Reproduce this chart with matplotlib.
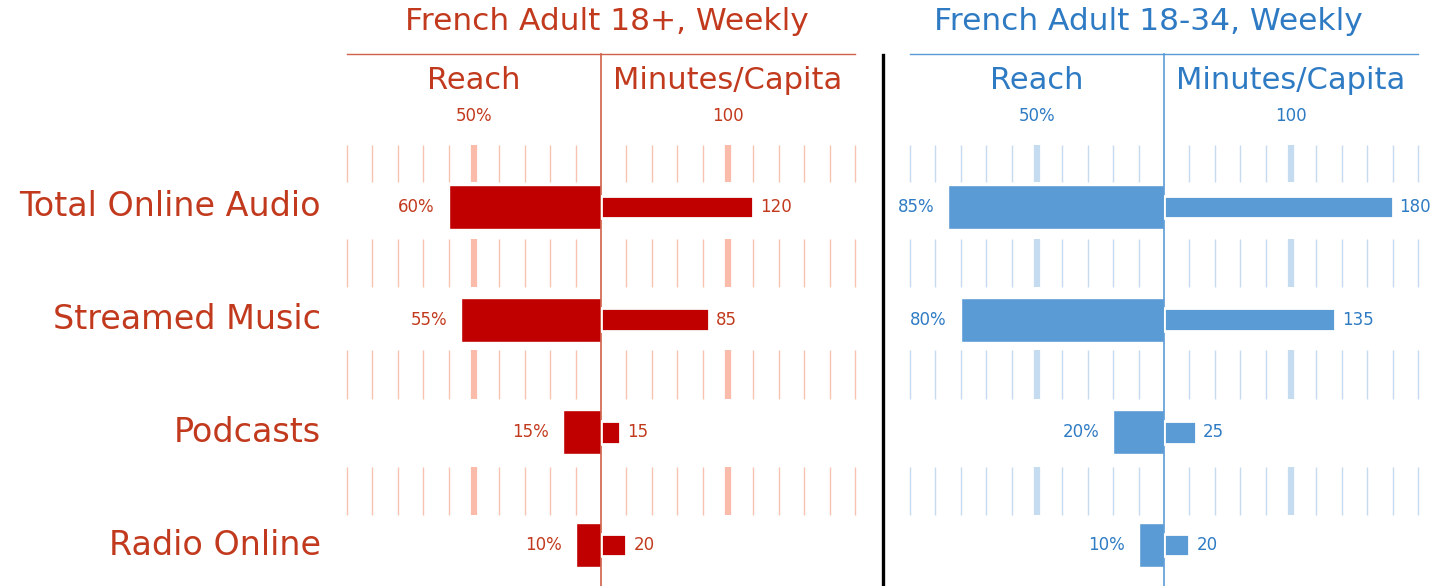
import matplotlib.pyplot as plt
from matplotlib.lines import Line2D

plt.rcParams['font.family'] = ['DejaVu Sans']

# data
categories = ["Total Online Audio", "Streamed Music", "Podcasts", "Radio Online"]
adult_reach = [60, 55, 15, 10]
adult_minutes = [120, 85, 15, 20]
young_reach = [85, 80, 20, 10]
young_minutes = [180, 135, 25, 20]
reach_ticks = [10, 20, 30, 40, 50, 60, 70, 80, 90, 100]
minutes_ticks = [20, 40, 60, 80, 100, 120, 140, 160, 180, 200]
reach_major = 50
minutes_major = 100
titles = ["French Adult 18+, Weekly", "French Adult 18-34, Weekly"]

W, H = 1447, 586
fig = plt.figure(figsize=(W / 100, H / 100), dpi=100)

# colours per panel
red = dict(text="#C23A1E", bar="#C00000", grid="#F8C2B2", major="#FBBBAA", line="#D0604A")
blue = dict(text="#2E7BC4", bar="#5B9BD5", grid="#C6DBEF", major="#C5DCF0", line="#5B9BD5")

# rows sit at 0..3, axes span y=54..586 px
ylim = (3.363, -1.357)
bands = [(-0.55, -0.22), (0.28, 0.71), (1.27, 1.70), (2.31, 2.73)]


def px_axes(x0, x1, y0=54, y1=586):
    return fig.add_axes([x0 / W, 1 - y1 / H, (x1 - x0) / W, (y1 - y0) / H])


def fig_text(x, y, s, **kw):
    fig.text(x / W, 1 - y / H, s, **kw)


def setup(ax, c):
    ax.set_ylim(*ylim)
    ax.set_xticks([])
    ax.set_yticks([])
    for sp in ax.spines.values():
        sp.set_visible(False)
    ax.spines['top'].set_visible(True)
    ax.spines['top'].set_color(c["line"])
    ax.spines['top'].set_linewidth(1.0)
    ax.patch.set_alpha(0)


def grid(ax, ticks, major, c):
    for t in ticks:
        for b0, b1 in bands:
            if t == major:
                ax.vlines(t, b0, b1, color=c["major"], lw=4.5, zorder=1, clip_on=False)
            else:
                ax.vlines(t, b0, b1, color=c["grid"], lw=1.0, zorder=1, clip_on=False)


def panel(x0, reach, minutes, c, title, title_x):
    xm = x0 + 254
    ax_r = px_axes(x0, xm)
    ax_m = px_axes(xm, xm + 254)
    for ax in (ax_r, ax_m):
        setup(ax, c)
    ax_r.set_xlim(100, 0)
    ax_m.set_xlim(0, 200)
    ax_r.spines['right'].set_visible(True)
    ax_r.spines['right'].set_color(c["line"])
    ax_r.spines['right'].set_linewidth(1.2)
    ax_r.spines['right'].set_zorder(3)

    grid(ax_r, reach_ticks, reach_major, c)
    grid(ax_m, minutes_ticks, minutes_major, c)

    rows = range(len(categories))
    ax_r.barh(rows, reach, height=0.39, color=c["bar"], edgecolor="white", lw=1, zorder=2)
    ax_m.barh(rows, minutes, height=0.2, color=c["bar"], edgecolor="white", lw=2, zorder=2)
    for i in rows:
        ax_r.annotate(f"{reach[i]}%", (reach[i], i), xytext=(-10, 0), textcoords="offset points",
                      ha="right", va="center", fontsize=12, color=c["text"])
        ax_m.annotate(f"{minutes[i]}", (minutes[i], i), xytext=(5, 0), textcoords="offset points",
                      ha="left", va="center", fontsize=12, color=c["text"])

    ax_r.text(0.5, 0.951, "Reach", transform=ax_r.transAxes, ha="center", va="center",
              fontsize=22, color=c["text"])
    ax_m.text(0.5, 0.951, "Minutes/Capita", transform=ax_m.transAxes, ha="center", va="center",
              fontsize=22, color=c["text"])
    ax_r.text(reach_major, 0.883, f"{reach_major}%", transform=ax_r.get_xaxis_transform(),
              ha="center", va="center", fontsize=12, color=c["text"])
    ax_m.text(minutes_major, 0.883, f"{minutes_major}", transform=ax_m.get_xaxis_transform(),
              ha="center", va="center", fontsize=12, color=c["text"])
    fig_text(title_x, 22, title, ha="center", va="center", fontsize=22.5, color=c["text"])
    return ax_r


ax_left = panel(347, adult_reach, adult_minutes, red, titles[0], 607)
panel(910, young_reach, young_minutes, blue, titles[1], 1148)

# category labels
for i, name in enumerate(categories):
    ax_left.annotate(name, (0, i), xycoords=("figure pixels", "data"), xytext=(321, 0),
                     textcoords=("figure pixels", "offset points"),
                     ha="right", va="center", fontsize=24, color=red["text"])

# black separator between panels
fig.add_artist(Line2D([883 / W, 883 / W], [1 - 55 / H, 0], color="black", lw=2.4))

fig.savefig("out.png", dpi=100)
